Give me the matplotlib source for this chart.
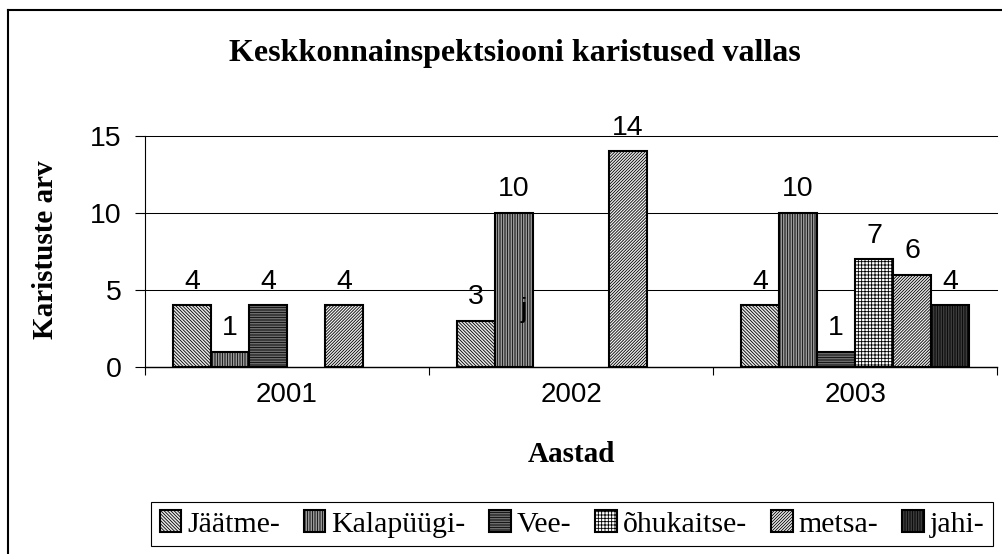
import matplotlib
matplotlib.use("Agg")
import matplotlib.pyplot as plt
from matplotlib.lines import Line2D
import numpy as np

# --- data ---
YEARS = ["2001", "2002", "2003"]
SERIES = ["Jäätme-", "Kalapüügi-", "Vee-", "õhukaitse-", "metsa-", "jahi-"]
# None = empty cell (no bar drawn)
JAATME = [4, 3, 4]
KALAPUUGI = [1, 10, 10]
VEE = [4, None, 1]
OHUKAITSE = [None, None, 7]
METSA = [4, 14, 6]
JAHI = [None, None, 4]
Y_TICKS = [0, 5, 10, 15]

VALUES = [JAATME, KALAPUUGI, VEE, OHUKAITSE, METSA, JAHI]
STYLES = [
    dict(facecolor="#e8e8e8", hatch="\\" * 10),
    dict(facecolor="#cccccc", hatch="|" * 10),
    dict(facecolor="#909090", hatch="-" * 10),
    dict(facecolor="white", hatch="+" * 5),
    dict(facecolor="#f0f0f0", hatch="/" * 11),
    dict(facecolor="#505050", hatch="|" * 10),
]

SANS = "Liberation Sans"
SERIF = "Liberation Serif"
plt.rcParams["hatch.linewidth"] = 0.6

fig = plt.figure(figsize=(10.03, 5.54), dpi=100)
ax = fig.add_axes([0.1446, 0.3375, 0.8495, 0.417])

x = np.arange(len(YEARS))
w = 0.1338
handles = []
for i, (name, vals, st) in enumerate(zip(SERIES, VALUES, STYLES)):
    off = (i - 2.5) * w
    xs = [x[k] + off for k, v in enumerate(vals) if v is not None]
    hs = [v for v in vals if v is not None]
    bars = ax.bar(xs, hs, width=w, edgecolor="black", linewidth=1.5,
                  label=name, zorder=3, **st)
    handles.append(bars)
    for xx, v in zip(xs, hs):
        ax.annotate(str(v), xy=(xx, v), xytext=(0, 12), textcoords="offset points",
                    ha="center", va="baseline", fontsize=20.5, family=SANS, zorder=4)

# stray label on the 2002 Kalapüügi bar
ax.text(1 - 1.5 * w + 0.035, 3.7, "j", ha="center", va="center",
        fontsize=20.5, family=SANS, zorder=4)

ax.set_xlim(-0.5, 2.5)
ax.set_ylim(0, 15)
ax.set_yticks(Y_TICKS)
ax.set_yticklabels([str(t) for t in Y_TICKS], fontsize=20.5, family=SANS)
ax.set_xticks(x)
ax.set_xticklabels(YEARS, fontsize=20, family=SANS)
ax.set_xticks([-0.5, 0.5, 1.5, 2.5], minor=True)
ax.tick_params(axis="x", which="major", length=0, pad=11)
ax.tick_params(axis="x", which="minor", length=6, width=0.8, direction="out")
ax.tick_params(axis="y", length=7, width=0.8, direction="out", pad=10)

ax.yaxis.grid(True, color="black", linewidth=0.75, zorder=0)
for gl in ax.yaxis.get_gridlines():
    gl.set_clip_on(False)
ax.set_axisbelow(True)
for s in ["top", "right"]:
    ax.spines[s].set_visible(False)
ax.spines["left"].set_linewidth(0.8)
ax.spines["bottom"].set_linewidth(1.0)

fig.text(515 / 1003, 1 - 53 / 554, "Keskkonnainspektsiooni karistused vallas",
         ha="center", va="center", fontsize=23, fontweight="bold", family=SERIF)
fig.text(46 / 1003, 1 - 250 / 554, "Karistuste arv", rotation=90,
         ha="center", va="center", fontsize=21, fontweight="bold", family=SERIF)
fig.text(571 / 1003, 1 - 462 / 554, "Aastad", ha="center", va="baseline",
         fontsize=21, fontweight="bold", family=SERIF)

leg = fig.legend(handles=handles, labels=SERIES, loc="center",
                 bbox_to_anchor=(572 / 1003, 1 - 524 / 554), ncol=6,
                 prop={"family": SERIF, "size": 21.5}, frameon=True, fancybox=False,
                 framealpha=1, edgecolor="black", borderpad=0.3,
                 handlelength=0.72, handleheight=0.72, handletextpad=0.2,
                 columnspacing=0.8)
leg.get_frame().set_linewidth(0.8)

# outer chart frame (top and left edges visible)
fig.add_artist(Line2D([8 / 1003, 1.0], [1 - 10 / 554] * 2, transform=fig.transFigure,
                      color="black", linewidth=1.5))
fig.add_artist(Line2D([8 / 1003] * 2, [0.0, 1 - 10 / 554], transform=fig.transFigure,
                      color="black", linewidth=1.5))

fig.savefig("out.png", dpi=100)
